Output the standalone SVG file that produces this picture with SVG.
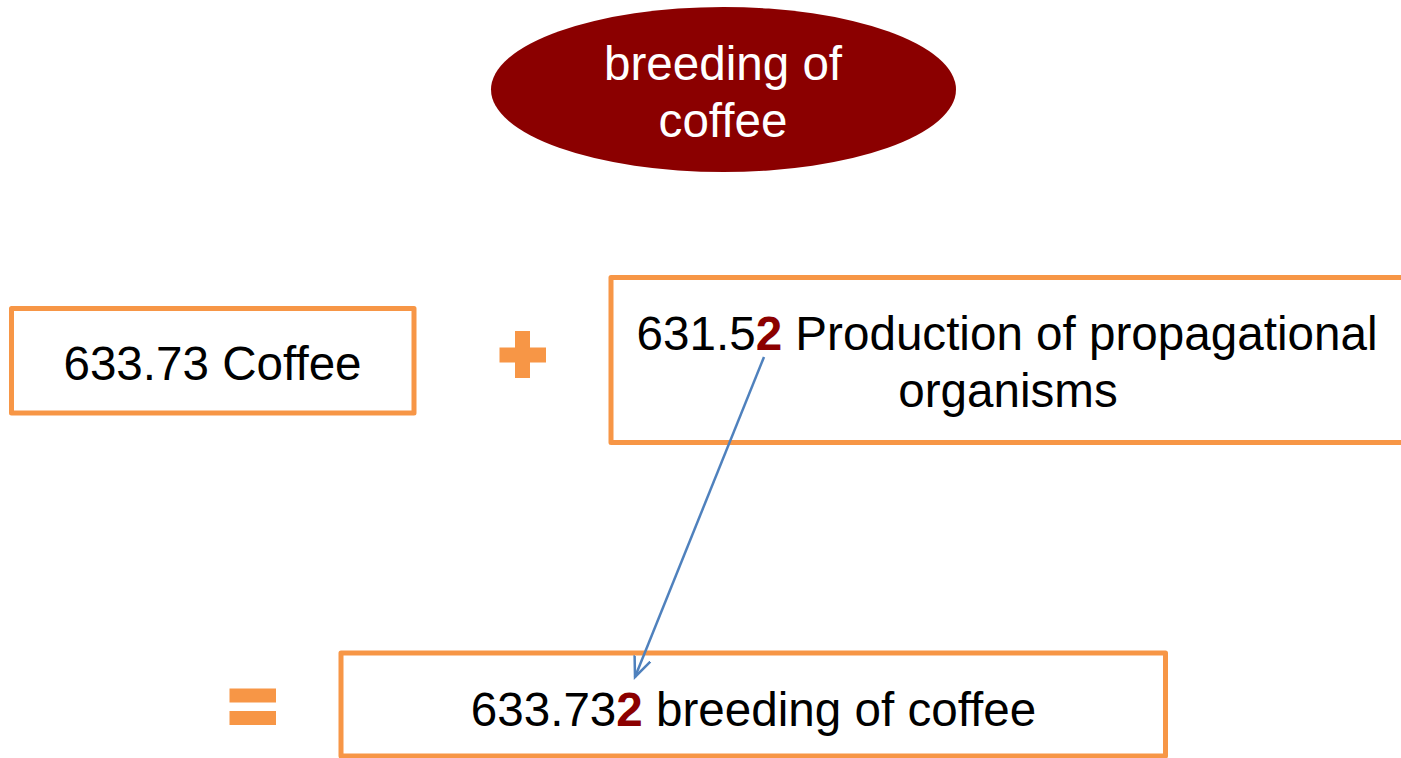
<svg xmlns="http://www.w3.org/2000/svg" width="1401" height="758" viewBox="0 0 1401 758">
<style>
  .box { fill: #ffffff; stroke: #F79646; stroke-width: 5; stroke-linejoin: round; }
  .sym { fill: #F79646; }
  .t { font-family: "Liberation Sans", Arial, sans-serif; font-size: 47.6px; fill: #000000; text-anchor: middle; }
  .w { fill: #ffffff; }
  .hl { fill: #8B0000; font-weight: bold; }
  .conn { stroke: #4F81BD; stroke-width: 2.5; fill: none; }
</style>
<defs>
  <marker id="arr" markerUnits="userSpaceOnUse" markerWidth="30" markerHeight="30" refX="20" refY="10" orient="auto" viewBox="0 0 30 20">
    <polyline points="0,1.5 20,10 0,18.5" fill="none" stroke="#4F81BD" stroke-width="2.5"/>
  </marker>
</defs>
<rect width="1401" height="758" fill="#ffffff"/>

<g id="title">
  <ellipse cx="723.5" cy="89.5" rx="232.5" ry="82.5" fill="#8B0000"/>
  <text class="t w" x="723" y="80">breeding of</text>
  <text class="t w" x="723" y="137">coffee</text>
</g>

<g id="coffee">
  <rect class="box" x="11.5" y="308.5" width="402.5" height="104.5"/>
  <text class="t" x="212.5" y="380">633.73 Coffee</text>
</g>

<g id="plus">
  <rect class="sym" x="515" y="331" width="15" height="47"/>
  <rect class="sym" x="499.5" y="347.5" width="46.5" height="15"/>
</g>

<g id="propagation">
  <rect class="box" x="611" y="277.5" width="800" height="165"/>
  <text class="t" x="1007" y="350">631.5<tspan class="hl">2</tspan> Production of propagational</text>
  <text class="t" x="1008" y="407">organisms</text>
</g>

<g id="equals">
  <rect class="sym" x="229.5" y="688.5" width="46.5" height="14"/>
  <rect class="sym" x="229.5" y="711" width="46.5" height="14"/>
</g>

<g id="result">
  <rect class="box" x="341" y="653" width="824.5" height="103"/>
  <text class="t" x="753.5" y="726">633.73<tspan class="hl">2</tspan> breeding of coffee</text>
</g>

<g id="connectors">
  <line class="conn" x1="764" y1="357" x2="635" y2="677" marker-end="url(#arr)"/>
</g>
</svg>
